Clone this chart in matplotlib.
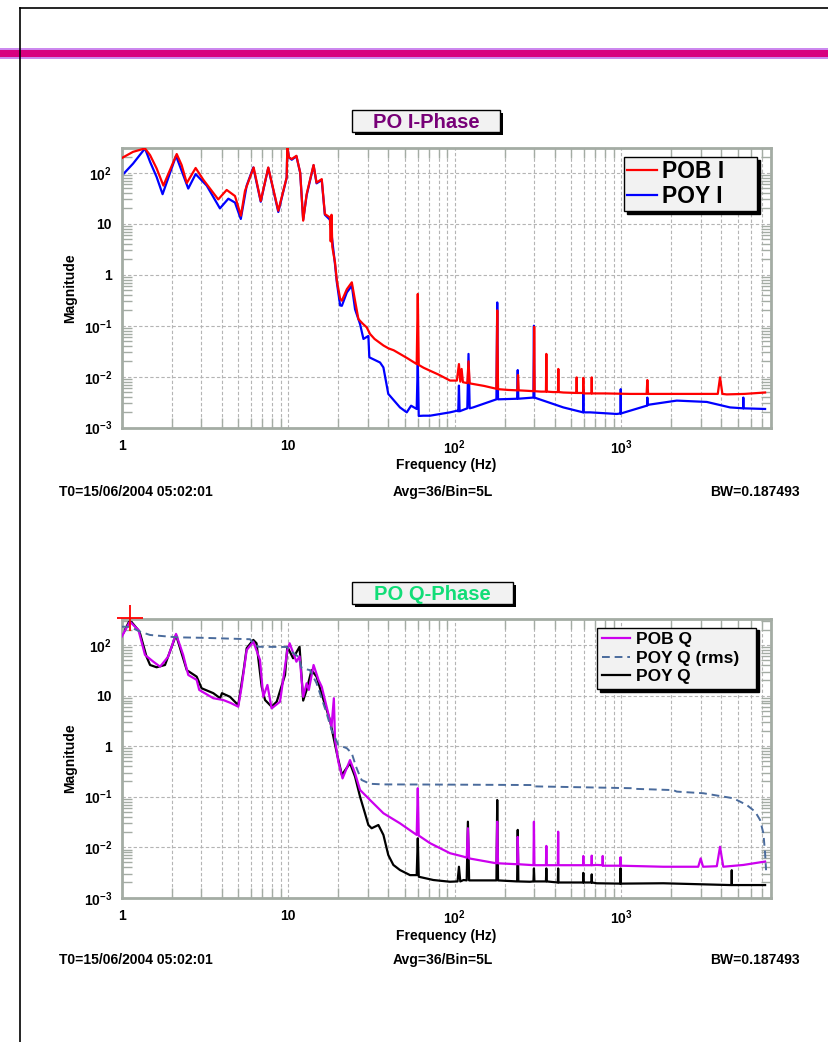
import numpy as np
import matplotlib
matplotlib.use("Agg")
import matplotlib.pyplot as plt
from matplotlib.lines import Line2D
from matplotlib.patches import Rectangle
from matplotlib.ticker import LogLocator, NullFormatter

plt.rcParams['font.family'] = ['Liberation Sans', 'DejaVu Sans']
plt.rcParams['font.weight'] = 'bold'
plt.rcParams['mathtext.fontset'] = 'custom'
plt.rcParams['mathtext.rm'] = 'Liberation Sans:bold'
plt.rcParams['mathtext.it'] = 'Liberation Sans:bold'
plt.rcParams['mathtext.bf'] = 'Liberation Sans:bold'

# ---- data (frequency in Hz, magnitude) ----
# PO I-Phase
pob_i_f = [1.0, 1.17, 1.38, 1.48, 1.62, 1.78, 2.14, 2.29, 2.46, 2.78,
           3.09, 3.80, 4.27, 4.79, 5.20, 5.50, 6.20, 6.84, 7.59, 8.72,
           9.79, 9.88, 10.1, 10.5, 11.2, 11.8, 12.3, 12.9, 14.2, 14.8,
           15.9, 16.6, 17.8, 18.0, 18.2, 18.4, 19.1, 19.6, 20.5, 21.0,
           22.5, 24.1, 25.2, 26.4, 28.0, 29.6, 31.0, 33.0, 37.3, 40.0,
           43.0, 46.9, 52.0, 59.1, 60.0, 60.8, 65.0, 71.1, 80.0, 93.7,
           103, 106, 108, 110, 112, 119, 121, 123, 150, 178,
           180, 182, 210, 238, 240, 242, 270, 298, 300, 302,
           330, 353, 355, 357, 390, 417, 419, 421, 449, 538,
           540, 542, 590, 592, 594, 663, 665, 667, 800, 1130,
           1420, 1435, 1450, 2155, 3500, 3800, 3920, 4050, 4300, 5500,
           7310]
pob_i_m = [194, 257, 300, 222, 122, 56, 233, 142, 63, 124,
           73, 30, 46, 35, 14.4, 44, 127, 28, 127, 18,
           81, 330, 200, 186, 215, 101, 11.5, 38, 142, 64,
           75, 15.5, 13.3, 4.5, 15, 3.5, 1.74, 0.76, 0.34, 0.31,
           0.52, 0.71, 0.31, 0.135, 0.11, 0.093, 0.069, 0.055, 0.041, 0.036,
           0.033, 0.028, 0.023, 0.0177, 0.42, 0.017, 0.015, 0.0131, 0.011, 0.0084,
           0.0084, 0.0177, 0.008, 0.0142, 0.0078, 0.0075, 0.020, 0.0074, 0.0066, 0.0058,
           0.20, 0.0057, 0.0055, 0.0054, 0.0108, 0.0054, 0.0053, 0.0052, 0.095, 0.0052,
           0.0051, 0.0051, 0.028, 0.0051, 0.005, 0.005, 0.0142, 0.005, 0.0049, 0.0048,
           0.0097, 0.0048, 0.0048, 0.0095, 0.0047, 0.0047, 0.0097, 0.0047, 0.0047, 0.0046,
           0.0046, 0.0086, 0.0046, 0.0046, 0.0046, 0.0046, 0.0097, 0.0046, 0.0045, 0.0046,
           0.0049]

poy_i_f = [1.0, 1.17, 1.38, 1.48, 1.62, 1.76, 2.12, 2.51, 2.78, 3.24,
           3.89, 4.37, 4.79, 5.19, 5.63, 6.17, 6.84, 7.59, 8.72, 9.79,
           9.88, 10.1, 10.5, 11.2, 11.8, 12.3, 12.9, 14.2, 14.8, 15.9,
           16.6, 17.8, 19.1, 19.6, 20.5, 21.0, 22.5, 24.1, 25.2, 27.0,
           28.3, 30.3, 30.7, 35.6, 37.3, 39.9, 46.9, 51.5, 54.7, 59.1,
           60.0, 60.8, 64.8, 71.1, 93.7, 103, 105, 106, 107, 119,
           121, 123, 129, 178, 180, 182, 237, 239, 241, 297,
           299, 301, 449, 590, 592, 594, 650, 940, 991, 993,
           995, 1422, 1433, 1435, 1437, 2155, 3265, 4500, 5400, 5410,
           5420, 7310]
poy_i_m = [87, 151, 300, 164, 83, 38, 215, 49, 94, 56,
           20, 31, 26, 12.4, 56, 127, 27, 125, 17, 80,
           330, 200, 180, 210, 100, 12, 36, 140, 62, 72,
           15, 12, 1.6, 0.7, 0.25, 0.246, 0.45, 0.61, 0.21, 0.108,
           0.055, 0.063, 0.024, 0.019, 0.0152, 0.0046, 0.0025, 0.002, 0.0027, 0.00233,
           0.02, 0.0017, 0.00172, 0.00172, 0.002, 0.00215, 0.0021, 0.0067, 0.0021, 0.0024,
           0.028, 0.0024, 0.0025, 0.0036, 0.286, 0.0036, 0.0037, 0.0135, 0.0037, 0.0039,
           0.1, 0.0039, 0.0025, 0.002, 0.0057, 0.002, 0.002, 0.00186, 0.0019, 0.0057,
           0.0019, 0.0027, 0.0027, 0.0039, 0.0028, 0.0034, 0.0032, 0.0025, 0.0024, 0.0039,
           0.0024, 0.00233]

# PO Q-Phase
pob_q_f = [1.0, 1.12, 1.26, 1.38, 1.55, 1.70, 1.90, 2.12, 2.34, 2.51,
           2.82, 2.92, 3.55, 4.07, 4.5, 5.01, 5.25, 5.63, 6.17, 6.77,
           7.08, 7.5, 7.95, 8.93, 9.88, 10.2, 11.2, 11.7, 12.3, 12.9,
           13.3, 14.2, 15.2, 15.9, 17.0, 18.2, 18.8, 19.1, 20.0, 21.2,
           23.5, 24.6, 25.2, 27.0, 31.0, 37.3, 46.9, 59.1, 60.0, 60.8,
           71.1, 93.7, 113, 118, 120, 122, 178, 180, 182, 237,
           239, 241, 283, 297, 299, 301, 353, 355, 357, 416,
           418, 420, 590, 592, 594, 663, 665, 667, 713, 772,
           774, 776, 988, 990, 992, 1790, 2900, 3000, 3100, 3750,
           3920, 4100, 5410, 7310]
pob_q_m = [147, 292, 200, 64, 47, 37.5, 59, 167, 64, 25.7,
           20.5, 13, 8.9, 8.2, 7.2, 6.05, 15, 80, 117, 51,
           9.5, 16.3, 5.6, 7.6, 80, 109, 47, 60, 9.5, 17.6,
           13, 40.5, 20.5, 15, 6.05, 2.43, 8.9, 1.33, 0.49, 0.23,
           0.53, 0.36, 0.29, 0.136, 0.086, 0.047, 0.0297, 0.0175, 0.147, 0.017,
           0.012, 0.0076, 0.0065, 0.0062, 0.0237, 0.006, 0.0048, 0.032, 0.0048, 0.0046,
           0.016, 0.0046, 0.00445, 0.0044, 0.032, 0.0044, 0.0044, 0.0106, 0.0044, 0.0044,
           0.0203, 0.0044, 0.0044, 0.0067, 0.0044, 0.0044, 0.0068, 0.0044, 0.00445, 0.0044,
           0.0067, 0.0043, 0.0043, 0.0063, 0.0043, 0.0041, 0.0041, 0.006, 0.0041, 0.0042,
           0.0102, 0.0041, 0.00445, 0.0052]

poy_q_f = [1.0, 1.12, 1.28, 1.41, 1.48, 1.62, 1.82, 2.12, 2.46, 2.82,
           3.02, 3.55, 3.9, 4.0, 4.47, 5.01, 5.4, 5.63, 6.17, 6.45,
           6.93, 7.26, 7.95, 8.53, 9.57, 9.88, 10.7, 11.7, 12.3, 12.9,
           13.8, 14.8, 16.3, 17.8, 19.6, 21.0, 23.5, 25.2, 27.0, 28.9,
           30.3, 31.7, 34.8, 37.3, 39.9, 42.8, 46.9, 53.9, 59.1, 60.0,
           60.8, 74.4, 93.7, 104, 106, 108, 113, 118, 120, 122,
           178, 180, 182, 237, 239, 241, 283, 297, 299, 301,
           353, 355, 357, 416, 418, 420, 590, 592, 594, 663,
           665, 667, 713, 988, 990, 992, 1790, 4500, 4600, 4610,
           4620, 7310]
poy_q_m = [150, 315, 185, 59, 40.5, 36.5, 40.5, 159, 32, 23.8,
           14, 11.2, 8.9, 11.2, 9.5, 6.5, 32, 87, 127, 109,
           15, 8.2, 6.05, 7.6, 25.7, 93, 55, 93, 8.0, 13,
           32, 23.8, 8.2, 3.3, 0.72, 0.27, 0.46, 0.249, 0.1, 0.047,
           0.0275, 0.0237, 0.0275, 0.0175, 0.007, 0.00445, 0.00353, 0.0028, 0.0028, 0.015,
           0.0026, 0.00224, 0.00207, 0.0021, 0.0041, 0.0021, 0.00224, 0.0022, 0.032, 0.0022,
           0.0022, 0.086, 0.0022, 0.0021, 0.022, 0.0021, 0.00207, 0.0021, 0.0038, 0.0021,
           0.0021, 0.0038, 0.0021, 0.002, 0.0038, 0.002, 0.002, 0.0031, 0.002, 0.002,
           0.0029, 0.002, 0.00193, 0.0019, 0.0038, 0.0019, 0.00193, 0.00178, 0.00178, 0.0035,
           0.00178, 0.00178]

poy_q_rms_f = [1.0, 1.12, 1.29, 1.48, 2.14, 3.0, 5.9, 6.17, 6.6, 9.79,
               10.5, 11.5, 12.05, 13.5, 14.8, 17.0, 18.2, 20.0, 22.5, 24.1,
               25.5, 26.4, 27.6, 31.0, 37.3, 71.1, 297, 300, 1183, 1200,
               2055, 2155, 3112, 3920, 4710, 5670, 6370, 6820, 7140, 7310,
               7410]
poy_q_rms_m = [232, 230, 185, 159, 143, 140, 131, 109, 93, 92,
               74, 59, 35, 32, 17.6, 4.5, 2.1, 1.06, 0.91, 0.72,
               0.40, 0.30, 0.214, 0.18, 0.175, 0.174, 0.17, 0.16, 0.147, 0.143,
               0.135, 0.126, 0.117, 0.103, 0.093, 0.0686, 0.0505, 0.0346, 0.0188, 0.0076,
               0.0035]

cursor_f = [1.12]
cursor_m = [346]

x_ticks = [1, 10, 100, 1000]
x_labels = ['1', '10', r'$10^2$', r'$10^3$']
y_ticks = [1e-3, 1e-2, 1e-1, 1, 10, 100]
y_labels = [r'$10^{-3}$', r'$10^{-2}$', r'$10^{-1}$', '1', '10', r'$10^2$']

W, H = 829, 1042
fig = plt.figure(figsize=(W / 100, H / 100), dpi=100)


def fx(x):
    return x / W


def fy(y):
    return 1 - y / H


# page frame and magenta header rule
fig.add_artist(Rectangle((0, fy(58.5)), 1, 10 / H, transform=fig.transFigure,
                         color='#cc88ee', lw=0))
fig.add_artist(Rectangle((0, fy(57)), 1, 7 / H, transform=fig.transFigure,
                         color='#d8007f', lw=0))
fig.add_artist(Line2D([fx(20), 1], [fy(8), fy(8)], transform=fig.transFigure,
                      color='black', lw=1.2))
fig.add_artist(Line2D([fx(20), fx(20)], [fy(8), 0], transform=fig.transFigure,
                      color='black', lw=1.2))


def style_axes(ax, ytop):
    ax.set_xscale('log')
    ax.set_yscale('log')
    ax.set_xlim(1, 7900)
    ax.set_ylim(1e-3, ytop)
    ax.set_xticks(x_ticks)
    ax.set_xticklabels(x_labels)
    ax.set_yticks(y_ticks)
    ax.set_yticklabels(y_labels)
    ax.xaxis.set_minor_locator(LogLocator(base=10, subs=range(2, 10), numticks=20))
    ax.yaxis.set_minor_locator(LogLocator(base=10, subs=range(2, 10), numticks=20))
    ax.xaxis.set_minor_formatter(NullFormatter())
    ax.yaxis.set_minor_formatter(NullFormatter())
    ax.grid(True, which='major', ls=(0, (3, 2)), color='#b4b4b4', lw=0.8)
    ax.grid(True, which='minor', axis='x', ls=(0, (3, 2)), color='#b4b4b4', lw=0.8)
    ax.tick_params(which='both', direction='in', color='#a4aca4',
                   top=True, right=True, labelsize=10)
    ax.tick_params(which='major', length=0)
    ax.tick_params(axis='x', which='major', pad=8)
    ax.tick_params(axis='y', which='major', pad=7)
    ax.tick_params(which='minor', length=7, width=1)
    for s in ax.spines.values():
        s.set_color('#a4aca4')
        s.set_linewidth(2)
    ax.set_axisbelow(True)


def title_box(x0, x1, y0, y1, text, color):
    fig.add_artist(Rectangle((fx(x0 + 3), fy(y1 + 3)), (x1 - x0) / W, (y1 - y0) / H,
                             transform=fig.transFigure, facecolor='black', lw=0))
    fig.add_artist(Rectangle((fx(x0), fy(y1)), (x1 - x0) / W, (y1 - y0) / H,
                             transform=fig.transFigure, facecolor='#f2f2f2',
                             edgecolor='black', lw=1))
    fig.text(fx((x0 + x1) / 2), fy((y0 + y1) / 2 + 7), text, ha='center', va='baseline',
             fontsize=14.5, color=color, fontweight='bold')


def footer(y_freq, y_foot, y_mid):
    fig.text(fx(446), fy(y_freq), 'Frequency (Hz)', ha='center', va='center', fontsize=10)
    fig.text(fx(59), fy(y_foot), 'T0=15/06/2004 05:02:01', ha='left', va='center', fontsize=10)
    fig.text(fx(443), fy(y_foot), 'Avg=36/Bin=5L', ha='center', va='center', fontsize=10)
    fig.text(fx(800), fy(y_foot), 'BW=0.187493', ha='right', va='center', fontsize=10)
    fig.text(fx(70), fy(y_mid), 'Magnitude', rotation=90, ha='center', va='center', fontsize=10)


legend_kw = dict(frameon=True, fancybox=False, edgecolor='black', facecolor='#f2f2f2',
                 framealpha=1, shadow={'color': 'black', 'alpha': 1}, borderaxespad=0,
                 loc='upper left', mode='expand')

# ---- top: PO I-Phase ----
ax1 = fig.add_axes([fx(121.7), fy(427.7), 649 / W, 280 / H])
style_axes(ax1, 310)
ax1.plot(poy_i_f, poy_i_m, color='#0000ff', lw=1.6, label='POY I', zorder=2)
ax1.plot(pob_i_f, pob_i_m, color='#ff0000', lw=1.6, label='POB I', zorder=3)
h, l = ax1.get_legend_handles_labels()
ax1.legend(h[::-1], l[::-1], bbox_to_anchor=(0.774, 0.0, 0.205, 0.967),
           fontsize=16.5, handlelength=1.3, handletextpad=0.25, borderpad=0.12,
           labelspacing=0.1, **legend_kw)
title_box(352, 500, 110, 131.5, 'PO I-Phase', '#770077')
footer(465, 492, 287.7)

# ---- bottom: PO Q-Phase ----
ax2 = fig.add_axes([fx(121.7), fy(897.7), 649 / W, 278.4 / H])
style_axes(ax2, 325)
l_k, = ax2.plot(poy_q_f, poy_q_m, color='black', lw=1.6, label='POY Q', zorder=2)
l_m, = ax2.plot(pob_q_f, pob_q_m, color='#cc00ee', lw=1.6, label='POB Q', zorder=3)
l_r, = ax2.plot(poy_q_rms_f, poy_q_rms_m, color='#4a6b9c', lw=1.4, ls=(0, (4, 2.5)),
                label='POY Q (rms)', zorder=4)
ax2.plot(cursor_f, cursor_m, marker='+', ms=19, mew=1.3, color='red',
         ls='none', clip_on=False, zorder=6)
ax2.legend([l_m, l_r, l_k], ['POB Q', 'POY Q (rms)', 'POY Q'],
           bbox_to_anchor=(0.733, 0.0, 0.244, 0.970), fontsize=12.5, handlelength=1.65,
           handletextpad=0.3, borderpad=0.25, labelspacing=0.2, **legend_kw)
title_box(352, 513, 582, 604, 'PO Q-Phase', '#11dd77')
footer(936, 960, 758.5)

fig.savefig('out.png', dpi=100)
